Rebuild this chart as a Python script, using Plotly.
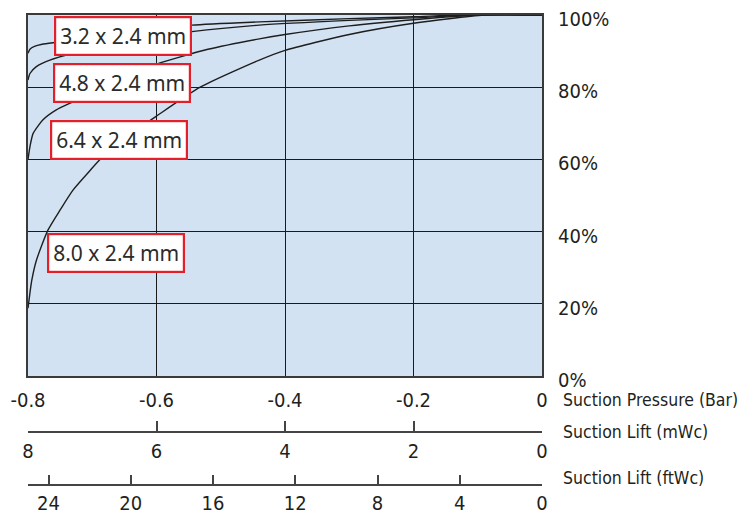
import plotly.graph_objects as go

# ---------------- data ----------------
BAR_TICKS = [-0.8, -0.6, -0.4, -0.2, 0]
BAR_TICK_TEXT = ["-0.8", "-0.6", "-0.4", "-0.2", "0"]
PCT_TICKS = [0, 20, 40, 60, 80, 100]
PCT_TICK_TEXT = ["0%", "20%", "40%", "60%", "80%", "100%"]
MWC_TICKS = [8, 6, 4, 2, 0]
MWC_TICK_TEXT = ["8", "6", "4", "2", "0"]
FTWC_TICKS = [25, 24, 20, 16, 12, 8, 4, 0]
FTWC_TICK_TEXT = ["", "24", "20", "16", "12", "8", "4", "0"]

SERIES_NAMES = ["3.2 x 2.4 mm", "4.8 x 2.4 mm", "6.4 x 2.4 mm", "8.0 x 2.4 mm"]

S32_X = [-0.8, -0.797, -0.79, -0.778, -0.758, -0.72, -0.65, -0.545, -0.44, -0.3, -0.2, -0.13, 0.0]
S32_Y = [89.4, 90.5, 91.3, 91.9, 92.4, 93.2, 95.0, 97.2, 98.1, 99.0, 99.5, 100, 100]

S48_X = [-0.8, -0.797, -0.787, -0.766, -0.73, -0.65, -0.545, -0.44, -0.3, -0.2, -0.11, 0.0]
S48_Y = [82.0, 83.8, 85.7, 87.5, 89.4, 92.6, 95.4, 97.2, 98.5, 99.2, 100, 100]

S64_X = [-0.8, -0.797, -0.792, -0.777, -0.756, -0.727, -0.68, -0.6, -0.52, -0.44, -0.4, -0.3, -0.2, -0.1, 0.0]
S64_Y = [60.0, 63.5, 67.2, 70.9, 73.7, 76.2, 80.5, 86.4, 90.5, 93.4, 94.6, 97.0, 98.7, 100, 100]

S80_X = [-0.8, -0.797, -0.794, -0.787, -0.769, -0.75, -0.73, -0.703, -0.688, -0.65, -0.618, -0.6, -0.532, -0.44, -0.4, -0.3, -0.2, -0.09, 0.0]
S80_Y = [18.8, 23.0, 26.6, 32.0, 40.4, 46.0, 51.5, 57.0, 60.0, 65.8, 69.8, 72.0, 80.0, 87.5, 90.2, 94.6, 97.7, 100, 100]

# label box anchor positions (data units)
LABEL_X = [-0.652, -0.654, -0.658, -0.663]
LABEL_Y = [94.2, 81.1, 65.5, 34.2]

# ---------------- style ----------------
W, H = 740, 515
ML, MR, MT, MB = 28, 198, 15, 10
PH = H - MT - MB
def py(p):  # pixel y -> paper fraction
    return (H - MB - p) / PH
def px(p):
    return (p - ML) / (W - ML - MR)

NARROW = "DejaVu Sans Condensed"
TXT = "#231F20"
FRAME = "#3a3a3a"

fig = go.Figure()
for xs, ys, nm in zip([S32_X, S48_X, S64_X, S80_X], [S32_Y, S48_Y, S64_Y, S80_Y], SERIES_NAMES):
    fig.add_trace(go.Scatter(x=xs, y=ys, mode="lines", name=nm,
                             line=dict(color="#1e1e1e", width=1.4, shape="spline", smoothing=0.6),
                             showlegend=False, hoverinfo="skip"))

# carriers for the extra axes
fig.add_trace(go.Scatter(x=MWC_TICKS, y=[None] * len(MWC_TICKS), xaxis="x2", mode="lines",
                         showlegend=False, hoverinfo="skip"))
fig.add_trace(go.Scatter(x=FTWC_TICKS, y=[None] * len(FTWC_TICKS), xaxis="x3", mode="lines",
                         showlegend=False, hoverinfo="skip"))

for nm, lx, ly in zip(SERIES_NAMES, LABEL_X, LABEL_Y):
    fig.add_annotation(x=lx, y=ly, xref="x", yref="y", text=nm, showarrow=False,
                       font=dict(family="Noto Sans", size=21, color="#2b2b2b"),
                       bgcolor="white", bordercolor="#E3202A", borderwidth=2.2, borderpad=4)

titles = [("Suction Pressure (Bar)", 400), ("Suction Lift (mWc)", 432), ("Suction Lift (ftWc)", 478)]
for t, yy in titles:
    fig.add_annotation(x=px(561), y=py(yy), xref="paper", yref="paper", text=t, showarrow=False,
                       xanchor="left", yanchor="middle", font=dict(family=NARROW, size=17.5, color=TXT))

tickfont = dict(family=NARROW, size=20, color=TXT)
fig.update_layout(
    width=W, height=H,
    margin=dict(l=ML, r=MR, t=MT, b=MB, autoexpand=False),
    paper_bgcolor="white",
    plot_bgcolor="#D3E2F2",
    xaxis=dict(range=[-0.8, 0], tickvals=BAR_TICKS, ticktext=BAR_TICK_TEXT,
               showgrid=True, gridcolor="#1a1a1a", gridwidth=1.4,
               showline=True, linecolor=FRAME, linewidth=2, mirror=True,
               ticks="", ticklabelstandoff=5, zeroline=False, automargin=False,
               tickfont=tickfont),
    yaxis=dict(range=[0, 100], domain=[py(376), 1], side="right", tickvals=PCT_TICKS,
               ticktext=PCT_TICK_TEXT, showgrid=True, gridcolor="#1a1a1a", gridwidth=1.4,
               showline=True, linecolor=FRAME, linewidth=2, mirror=True,
               ticks="", ticklabelstandoff=10, ticklabelshift=4, zeroline=False,
               ticklabeloverflow="allow", automargin=False,
               tickfont=tickfont),
    xaxis2=dict(range=[8, 0], overlaying="x", anchor="free", position=py(432), side="bottom",
                tickvals=MWC_TICKS, ticktext=MWC_TICK_TEXT, showgrid=False, zeroline=False,
                showline=True, linecolor="#444", linewidth=1.5, automargin=False,
                ticks="inside", ticklen=10, tickwidth=1.5, tickcolor="#444",
                ticklabelstandoff=1, ticklabeloverflow="allow",
                tickfont=tickfont),
    xaxis3=dict(range=[25, 0], overlaying="x", anchor="free", position=py(485), side="bottom",
                tickvals=FTWC_TICKS, ticktext=FTWC_TICK_TEXT, showgrid=False, zeroline=False,
                showline=True, linecolor="#444", linewidth=1.5, automargin=False,
                ticks="inside", ticklen=9, tickwidth=1.5, tickcolor="#444",
                ticklabelstandoff=0, ticklabeloverflow="allow",
                tickfont=tickfont),
)

fig.write_html("out.html", config={"displayModeBar": False},
               post_script="document.body.style.margin='0px';document.body.style.overflow='hidden';")
